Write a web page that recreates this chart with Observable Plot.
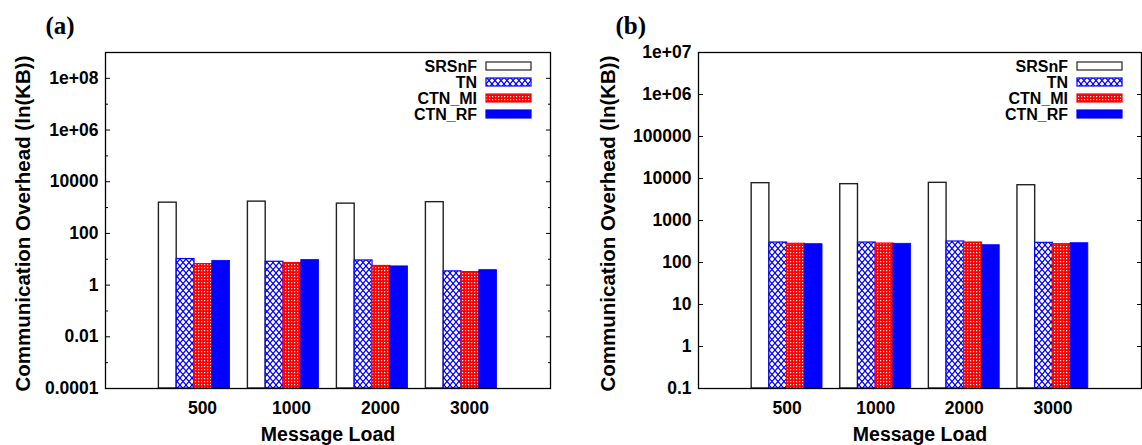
<!DOCTYPE html>
<html><head><meta charset="utf-8">
<script src="https://cdn.jsdelivr.net/npm/d3@7"></script>
<script src="https://cdn.jsdelivr.net/npm/@observablehq/plot@0.6"></script>
<style>
html,body{margin:0;padding:0;background:#fff;}
#wrap{display:flex;width:1142px;height:445px;overflow:hidden;}
#wrap > div{width:571px;height:445px;flex:none;}
</style></head><body>
<svg width="0" height="0" style="position:absolute">
<defs>
<pattern id="patTN" width="6" height="7" patternUnits="userSpaceOnUse">
 <rect width="6" height="7" fill="#fff"/>
 <path d="M0,0L6,7M6,0L0,7" stroke="#0000ff" stroke-width="1.2"/>
</pattern>
<pattern id="patMI" width="3" height="3" patternUnits="userSpaceOnUse">
 <rect width="3" height="3" fill="#ff0000"/>
 <rect width="1.2" height="1.2" fill="#fff"/>
</pattern>
</defs></svg>
<div id="wrap"><div id="pa"></div><div id="pb"></div></div>
<script>
// ---- data ----
const categories = ["500", "1000", "2000", "3000"];
const series = ["SRSnF", "TN", "CTN_MI", "CTN_RF"];
const aSRSnF = [1550, 1700, 1420, 1620];
const aTN    = [10.2, 8.0, 9.0, 3.4];
const aMI    = [6.5, 7.1, 5.5, 3.2];
const aRF    = [8.7, 9.3, 5.3, 3.8];
const bSRSnF = [7740, 7330, 7890, 6920];
const bTN    = [299, 299, 316, 294];
const bMI    = [279, 283, 299, 273];
const bRF    = [273, 279, 258, 288];
const aTicks = [1e-4, 1e-2, 1, 100, 1e4, 1e6, 1e8];
const aTickLabels = ["0.0001", "0.01", "1", "100", "10000", "1e+06", "1e+08"];
const aMinor = [1e-3, 1e-1, 10, 1e3, 1e5, 1e7];
const bTicks = [0.1, 1, 10, 100, 1000, 1e4, 1e5, 1e6, 1e7];
const bTickLabels = ["0.1", "1", "10", "100", "1000", "10000", "100000", "1e+06", "1e+07"];
const xTitle = "Message Load";
const yTitle = "Communication Overhead (ln(KB))";

// ---- styles ----
const fills = ["#ffffff", "url(#patTN)", "url(#patMI)", "#0000ff"];
const strokes = ["#222222", "#0000ff", "#ff0000", "#0000ff"];
const FONT = "'Liberation Sans', Arial, sans-serif";
const barW = 0.2;

function rowsOf(cols) {
  const rows = [];
  categories.forEach((c, i) => cols.forEach((vals, j) => rows.push({i, j, value: vals[i]})));
  return rows;
}

function legendMark() {
  return (index, scales, values, dims) => {
    const g = d3.create("svg:g");
    const swRight = dims.width - dims.marginRight - 19;
    const swLeft = swRight - 45;
    series.forEach((s, j) => {
      const cy = dims.marginTop + 14 + j * 16;
      g.append("text").attr("x", swLeft - 9).attr("y", cy).attr("dy", "0.36em")
        .attr("text-anchor", "end").attr("font-size", 16).attr("font-weight", "bold")
        .attr("font-family", FONT).attr("fill", "#000").text(s);
      g.append("rect").attr("x", swLeft).attr("y", cy - 4).attr("width", 45).attr("height", 8)
        .attr("fill", fills[j]).attr("stroke", strokes[j]).attr("stroke-width", 1.2);
    });
    return g.node();
  };
}

function panel({cols, domain, ticks, labels, minor, marginLeft, marginRight, tag, tagDx, yDx, xLabelDx}) {
  const rows = rowsOf(cols);
  const marks = [];
  series.forEach((s, j) => {
    marks.push(Plot.rect(rows.filter(d => d.j === j), {
      x1: d => d.i + (d.j - 1.5) * barW - barW / 2,
      x2: d => d.i + (d.j - 1.5) * barW + barW / 2,
      y1: () => domain[0],
      y2: "value",
      fill: fills[j], stroke: strokes[j], strokeWidth: j === 3 ? 0.8 : (j === 0 ? 1.4 : 1.2)
    }));
  });
  marks.push(Plot.axisY(ticks, {anchor: "left", tickSize: -5, tickPadding: 12, label: null,
    tickFormat: d => labels[ticks.indexOf(d)], fontSize: 17.5, fontWeight: "bold", fontFamily: FONT}));
  marks.push(Plot.axisY(ticks, {anchor: "right", tickSize: -5, tickFormat: () => "", label: null}));
  if (minor) {
    marks.push(Plot.axisY(minor, {anchor: "left", tickSize: -3, tickFormat: () => "", label: null}));
    marks.push(Plot.axisY(minor, {anchor: "right", tickSize: -3, tickFormat: () => "", label: null}));
  }
  marks.push(Plot.axisX([0, 1, 2, 3], {anchor: "bottom", tickSize: 0, tickPadding: 13, label: null, dx: xLabelDx,
    tickFormat: d => categories[d], fontSize: 17.5, fontWeight: "bold", fontFamily: FONT}));
  marks.push(Plot.frame({stroke: "#000", strokeWidth: 1.3}));
  marks.push(Plot.text([xTitle], {frameAnchor: "bottom", dy: 39, lineAnchor: "top", fontSize: 19.5,
    fontWeight: "bold", fontFamily: FONT, fill: "#000"}));
  marks.push(Plot.text([yTitle], {frameAnchor: "left", rotate: -90, dx: yDx, dy: 3, lineAnchor: "middle", textAnchor: "middle",
    fontSize: 20.5, fontWeight: "bold", fontFamily: FONT, fill: "#000"}));
  marks.push(Plot.text([tag], {frameAnchor: "top-left", dx: tagDx, dy: -27, textAnchor: "start", lineAnchor: "middle",
    fontSize: 25, fontWeight: "bold", fontFamily: "'Liberation Serif', 'Times New Roman', serif", fill: "#000"}));
  marks.push(legendMark());
  return Plot.plot({
    width: 571, height: 445,
    marginLeft, marginRight, marginTop: 52, marginBottom: 57,
    style: {fontFamily: FONT, color: "#000", background: "#fff", overflow: "visible"},
    x: {type: "linear", domain: [-1, 4], axis: null},
    y: {type: "log", domain, axis: null},
    marks
  });
}

document.getElementById("pa").append(panel({
  cols: [aSRSnF, aTN, aMI, aRF], domain: [1e-4, 1e9], ticks: aTicks, labels: aTickLabels, minor: aMinor,
  marginLeft: 105, marginRight: 21, tag: "(a)", tagDx: -60, yDx: -82, xLabelDx: 8
}));
document.getElementById("pb").append(panel({
  cols: [bSRSnF, bTN, bMI, bRF], domain: [0.1, 1e7], ticks: bTicks, labels: bTickLabels, minor: null,
  marginLeft: 127, marginRight: 1, tag: "(b)", tagDx: -83, yDx: -90, xLabelDx: 0
}));
</script>
</body></html>
